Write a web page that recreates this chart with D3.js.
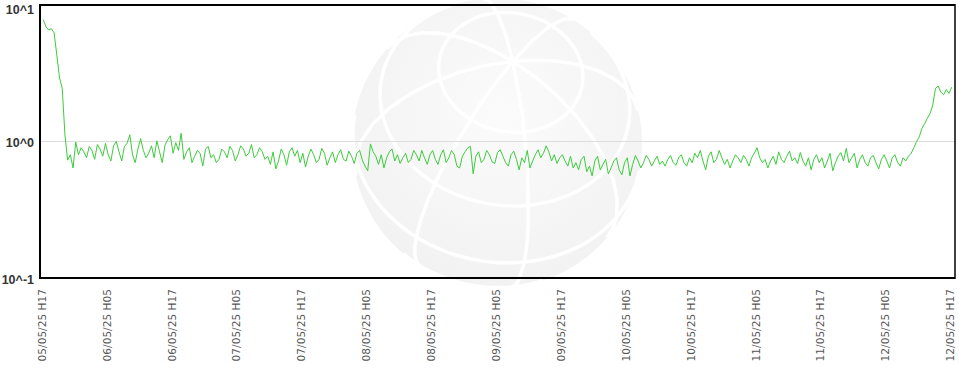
<!DOCTYPE html>
<html>
<head>
<meta charset="utf-8">
<script src="https://cdn.jsdelivr.net/npm/d3@7"></script>
<style>
  body { margin: 0; background: #fff; }
  svg { display: block; }
</style>
</head>
<body>
<svg id="chart" width="959" height="373"></svg>
<script>
// readings, one every ~30 min, from 05/05/25 17:00 to 12/05/25 17:00
var day1 = [7.8, 6.9, 6.56, 6.7, 6.24, 4.3, 2.92, 2.46, 1.12, 0.73, 0.80, 0.64, 0.99, 0.80, 0.90, 0.84, 0.76, 0.92, 0.86, 0.74, 0.95, 0.88, 0.78, 0.97, 0.80, 0.72, 0.93, 1.00, 0.84, 0.72, 0.92, 0.97, 1.12, 0.80, 0.70, 0.88, 1.05, 0.86, 0.76, 0.82, 0.93, 0.76, 1.01, 0.84, 0.70, 0.94, 1.03, 1.10];
var day2 = [0.82, 0.98, 0.86, 1.15, 0.74, 0.84, 0.90, 0.70, 0.78, 0.86, 0.82, 0.66, 0.88, 0.92, 0.76, 0.80, 0.70, 0.74, 0.88, 0.84, 0.76, 0.92, 0.86, 0.72, 0.80, 0.93, 0.88, 0.78, 0.82, 0.95, 0.76, 0.80, 0.90, 0.84, 0.74, 0.78, 0.68, 0.84, 0.63, 0.72, 0.88, 0.80, 0.67, 0.84, 0.90, 0.78, 0.86, 0.70];
var day3 = [0.82, 0.65, 0.78, 0.88, 0.80, 0.70, 0.74, 0.89, 0.82, 0.67, 0.76, 0.84, 0.70, 0.80, 0.87, 0.74, 0.72, 0.85, 0.78, 0.69, 0.82, 0.86, 0.73, 0.66, 0.61, 0.96, 0.84, 0.78, 0.68, 0.80, 0.64, 0.76, 0.84, 0.88, 0.72, 0.80, 0.69, 0.76, 0.82, 0.70, 0.74, 0.86, 0.80, 0.72, 0.86, 0.76, 0.68, 0.80];
var day4 = [0.86, 0.74, 0.68, 0.80, 0.87, 0.70, 0.76, 0.86, 0.80, 0.66, 0.64, 0.78, 0.84, 0.90, 0.92, 0.58, 0.78, 0.84, 0.70, 0.74, 0.86, 0.80, 0.71, 0.69, 0.83, 0.87, 0.78, 0.70, 0.66, 0.80, 0.85, 0.74, 0.62, 0.76, 0.70, 0.86, 0.64, 0.72, 0.80, 0.87, 0.76, 0.82, 0.93, 0.84, 0.72, 0.80, 0.69, 0.76];
var day5 = [0.80, 0.72, 0.66, 0.78, 0.64, 0.70, 0.62, 0.74, 0.78, 0.60, 0.66, 0.56, 0.72, 0.78, 0.62, 0.68, 0.74, 0.58, 0.64, 0.72, 0.76, 0.62, 0.57, 0.70, 0.76, 0.56, 0.68, 0.79, 0.72, 0.64, 0.70, 0.79, 0.74, 0.66, 0.72, 0.78, 0.68, 0.72, 0.66, 0.74, 0.79, 0.70, 0.67, 0.76, 0.80, 0.70, 0.66, 0.76];
var day6 = [0.70, 0.82, 0.76, 0.86, 0.72, 0.62, 0.78, 0.84, 0.70, 0.74, 0.86, 0.76, 0.68, 0.74, 0.64, 0.72, 0.80, 0.76, 0.70, 0.79, 0.74, 0.66, 0.76, 0.82, 0.90, 0.76, 0.70, 0.74, 0.64, 0.72, 0.78, 0.68, 0.84, 0.74, 0.70, 0.78, 0.85, 0.72, 0.76, 0.69, 0.83, 0.72, 0.66, 0.76, 0.62, 0.74, 0.80, 0.70];
var day7 = [0.76, 0.64, 0.72, 0.82, 0.61, 0.70, 0.78, 0.83, 0.72, 0.89, 0.70, 0.76, 0.82, 0.64, 0.74, 0.80, 0.70, 0.66, 0.76, 0.79, 0.70, 0.63, 0.74, 0.80, 0.72, 0.64, 0.76, 0.80, 0.70, 0.66, 0.76, 0.72, 0.78, 0.82, 0.90, 1.00, 1.08, 1.25, 1.35, 1.48, 1.60, 1.85, 2.45, 2.55, 2.30, 2.20, 2.40, 2.25, 2.50];

var yTicks = [0.1, 1, 10];
var yTickLabels = ["10^-1", "10^0", "10^1"];
var startTime = new Date(2025, 4, 5, 17, 0);
var endTime = new Date(2025, 4, 12, 17, 0);
var xTickCount = 15; // one every 12 hours

var svg = d3.select("#chart");
var plotLeft = 40, plotRight = 955, plotTop = 5, plotBottom = 278;

var values = [].concat(day1, day2, day3, day4, day5, day6, day7);
var span = endTime - startTime;
var data = values.map(function(v, i) {
  return { t: new Date(+startTime + span * i / (values.length - 1)), v: v };
});

var x = d3.scaleTime().domain([startTime, endTime]).range([43.3, 951.7]);
var y = d3.scaleLog().domain([0.1, 10]).range([plotBottom, plotTop]);

// watermark globe
var globe = svg.append("g")
  .attr("transform", "rotate(11,497,143)");
var proj = d3.geoOrthographic()
  .scale(145).translate([497, 143]).rotate([20, -55, 0]).clipAngle(90);
var geo = d3.geoPath(proj);
var grad = svg.append("defs").append("radialGradient")
  .attr("id", "gshade").attr("cx", "50%").attr("cy", "40%").attr("r", "60%");
grad.append("stop").attr("offset", "0%").attr("stop-color", "#fbfbfb");
grad.append("stop").attr("offset", "100%").attr("stop-color", "#f2f2f2");
globe.append("path").datum({ type: "Sphere" }).attr("d", geo)
  .attr("fill", "url(#gshade)");
globe.append("path").datum(d3.geoGraticule().step([45, 30]).extentMajor([[-180, -90], [180, 90]]))
  .attr("d", geo).attr("fill", "none").attr("stroke", "#fff").attr("stroke-width", 3.5);

// grid line at 10^0
svg.append("line")
  .attr("x1", plotLeft).attr("x2", plotRight)
  .attr("y1", y(1)).attr("y2", y(1))
  .attr("stroke", "#dcdcdc").attr("stroke-width", 1);

// data line
var line = d3.line().x(function(d) { return x(d.t); }).y(function(d) { return y(d.v); });
svg.append("path").datum(data)
  .attr("d", line)
  .attr("fill", "none")
  .attr("stroke", "#3ccc3c")
  .attr("stroke-width", 1);

// frame
svg.append("line").attr("x1", plotLeft).attr("x2", plotRight).attr("y1", plotTop).attr("y2", plotTop)
  .attr("stroke", "#000").attr("stroke-width", 2);
svg.append("line").attr("x1", plotLeft).attr("x2", plotRight).attr("y1", plotBottom).attr("y2", plotBottom)
  .attr("stroke", "#000").attr("stroke-width", 2);
svg.append("line").attr("x1", plotLeft).attr("x2", plotLeft).attr("y1", plotTop - 1).attr("y2", plotBottom + 1)
  .attr("stroke", "#000").attr("stroke-width", 2);
svg.append("line").attr("x1", plotRight).attr("x2", plotRight).attr("y1", plotTop - 1).attr("y2", plotBottom + 1)
  .attr("stroke", "#000").attr("stroke-width", 1.5);

// y labels
svg.selectAll(".ylab").data(yTicks).enter().append("text")
  .attr("class", "ylab")
  .attr("x", 34)
  .attr("y", function(d) { return Math.max(y(d), 8) + 1; })
  .attr("dy", "0.36em")
  .attr("text-anchor", "end")
  .attr("font-family", "Liberation Sans, Arial, sans-serif")
  .attr("font-weight", "bold")
  .attr("font-size", 12.5)
  .attr("fill", "#333")
  .text(function(d, i) { return yTickLabels[i]; });

// x labels
var xTicks = d3.range(xTickCount).map(function(i) { return d3.timeHour.offset(startTime, 12 * i); });
var fmt = d3.timeFormat("%d/%m/%y H%H");
var xAxis = d3.axisBottom(x).tickValues(xTicks).tickFormat(fmt).tickSize(0);
var gx = svg.append("g").attr("transform", "translate(0," + plotBottom + ")").call(xAxis);
gx.select(".domain").remove();
gx.selectAll(".tick text")
  .attr("transform", "translate(-1.8,11) rotate(-90)")
  .attr("x", 0).attr("y", 0).attr("dy", "0.36em")
  .attr("text-anchor", "end")
  .attr("font-family", "DejaVu Sans, Verdana, sans-serif")
  .attr("font-size", 10.6)
  .attr("fill", "#555");
</script>
</body>
</html>
